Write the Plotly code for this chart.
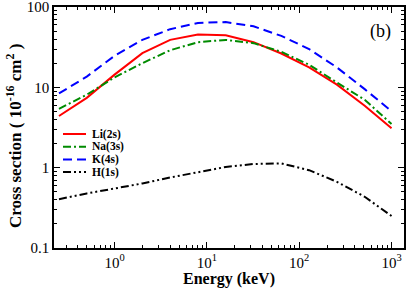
import plotly.graph_objects as go

energy = [0.25, 0.5, 1, 2, 4, 8, 16, 32, 64, 128, 256, 512, 1000]
li_2s = [4.4, 7.4, 14.4, 26.7, 39, 45.4, 44.6, 36.5, 26.4, 17.7, 10.8, 5.9, 3.1]
na_3s = [5.4, 8.1, 13.3, 20, 29, 36.5, 39, 35.5, 27.7, 19.1, 11.5, 7.0, 3.5]
k_4s = [8.4, 13.6, 24.7, 39, 53, 63.4, 65, 57.6, 43.7, 30, 17.7, 9.5, 5.05]
h_1s = [0.405, 0.478, 0.55, 0.636, 0.754, 0.877, 1.02, 1.11, 1.13, 0.93, 0.666, 0.434, 0.25]

series_names = ["Li(2s)", "Na(3s)", "K(4s)", "H(1s)"]
series_values = [li_2s, na_3s, k_4s, h_1s]
series_colors = ["#ff0000", "#008b00", "#0000ff", "#000000"]
series_dashes = ["solid", "8px,3px,2px,3px", "9px,5px", "8px,3px,2px,3px,2px,3px"]

x_tickvals = [1, 10, 100, 1000]
x_ticktext = ["10<sup>0</sup>", "10<sup>1</sup>", "10<sup>2</sup>", "10<sup>3</sup>"]
y_tickvals = [0.1, 1, 10, 100]
y_ticktext = ["0.1", "1", "10", "100"]

font = "Liberation Serif"
L, R, T, B = 54, 3, 7, 40
W, H = 407, 288
pw, ph = W - L - R, H - T - B

fig = go.Figure()
for name, vals, col, dash in zip(series_names, series_values, series_colors, series_dashes):
    fig.add_trace(go.Scatter(x=energy, y=vals, mode="lines", name=name, showlegend=False,
                             line=dict(color=col, width=2, dash=dash)))

# legend drawn as paper-space samples + labels (compact spacing as in the reference)
leg_rows = [134.0, 146.7, 159.4, 172.1]
for name, col, dash, py in zip(series_names, series_colors, series_dashes, leg_rows):
    yp = (H - B - py) / ph
    fig.add_shape(type="line", xref="paper", yref="paper",
                  x0=(63 - L) / pw, x1=(86 - L) / pw, y0=yp, y1=yp,
                  line=dict(color=col, width=2, dash=dash))
    fig.add_annotation(x=(90 - L) / pw, y=yp, xref="paper", yref="paper", text="<b>%s</b>" % name,
                       showarrow=False, xanchor="left", yanchor="middle",
                       font=dict(family=font, size=11.5, color="black"))

axis_common = dict(showgrid=False, zeroline=False, showline=True, linecolor="black",
                   linewidth=1.5, mirror="allticks", ticks="inside", ticklen=6,
                   tickcolor="black", tickwidth=1.2, automargin=False,
                   ticklabeloverflow="allow",
                   tickfont=dict(family=font, size=15, color="black"))

fig.update_xaxes(type="log", range=[-0.656, 3.135], tickvals=x_tickvals, ticktext=x_ticktext,
                 minor=dict(ticks="inside", ticklen=3, tickcolor="black", dtick="D1", showgrid=False),
                 title=dict(text="<b>Energy (keV)</b>", font=dict(family=font, size=16, color="black"), standoff=0),
                 **axis_common)
fig.update_yaxes(type="log", range=[-1.0005, 2.0005], tickvals=y_tickvals, ticktext=y_ticktext,
                 minor=dict(ticks="inside", ticklen=3, tickcolor="black", dtick="D1", showgrid=False),
                 **axis_common)

# y-axis title (placed as annotation to match the reference's vertical offset)
fig.add_annotation(x=0, xref="paper", y=(H - B - 136) / ph, yref="paper", xshift=-(L - 14),
                   text="<b>Cross section ( 10<sup>-16</sup> cm<sup>2</sup> )</b>", textangle=-90,
                   showarrow=False, xanchor="center", yanchor="middle",
                   font=dict(family=font, size=17, color="black"))

fig.add_annotation(x=(393 - L) / pw, y=(H - B - 32) / ph, xref="paper", yref="paper", text="(b)",
                   showarrow=False, xanchor="right", yanchor="middle",
                   font=dict(family=font, size=18, color="black"))

fig.update_layout(
    width=W, height=H,
    margin=dict(l=L, r=R, t=T, b=B),
    plot_bgcolor="white", paper_bgcolor="white",
    showlegend=False,
)
fig.write_html("out.html", config={"displayModeBar": False},
               post_script="document.body.style.margin='0';document.body.style.overflow='hidden';")
